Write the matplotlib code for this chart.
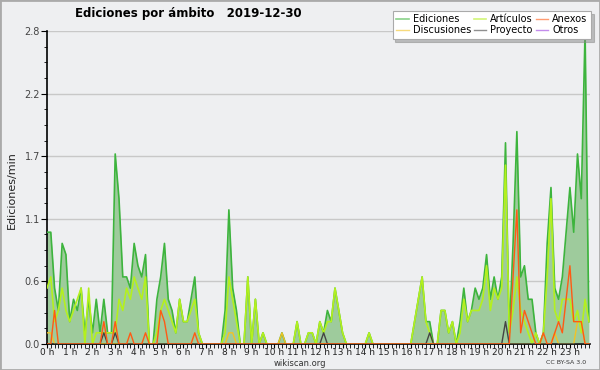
import numpy as np
import matplotlib
matplotlib.use("Agg")
import matplotlib.pyplot as plt
from matplotlib.patches import Rectangle

# edits per minute, one value every 10 minutes (6 per hour, 144 in total)
ediciones = [
    1.0, 1.0, 0.5, 0.3, 0.9, 0.8,   # 0 h
    0.2, 0.4, 0.3, 0.5, 0.1, 0.4,   # 1 h
    0.1, 0.4, 0.1, 0.4, 0.1, 0.1,   # 2 h
    1.7, 1.3, 0.6, 0.6, 0.5, 0.9,   # 3 h
    0.7, 0.6, 0.8, 0.0, 0.0, 0.4,   # 4 h
    0.6, 0.9, 0.4, 0.3, 0.1, 0.4,   # 5 h
    0.2, 0.2, 0.4, 0.6, 0.1, 0.0,   # 6 h
    0.0, 0.0, 0.0, 0.0, 0.0, 0.3,   # 7 h
    1.2, 0.5, 0.3, 0.0, 0.0, 0.6,   # 8 h
    0.0, 0.4, 0.0, 0.1, 0.0, 0.0,   # 9 h
    0.0, 0.0, 0.1, 0.0, 0.0, 0.0,   # 10 h
    0.2, 0.0, 0.0, 0.1, 0.1, 0.0,   # 11 h
    0.2, 0.1, 0.3, 0.2, 0.5, 0.3,   # 12 h
    0.1, 0.0, 0.0, 0.0, 0.0, 0.0,   # 13 h
    0.0, 0.1, 0.0, 0.0, 0.0, 0.0,   # 14 h
    0.0, 0.0, 0.0, 0.0, 0.0, 0.0,   # 15 h
    0.0, 0.2, 0.4, 0.6, 0.2, 0.2,   # 16 h
    0.0, 0.0, 0.3, 0.3, 0.1, 0.2,   # 17 h
    0.0, 0.2, 0.5, 0.2, 0.3, 0.5,   # 18 h
    0.4, 0.5, 0.8, 0.4, 0.6, 0.4,   # 19 h
    0.6, 1.8, 0.1, 0.9, 1.9, 0.6,   # 20 h
    0.7, 0.4, 0.4, 0.1, 0.0, 0.1,   # 21 h
    0.9, 1.4, 0.5, 0.4, 0.6, 1.0,   # 22 h
    1.4, 1.0, 1.7, 1.3, 2.8, 0.2,   # 23 h
]

articulos = [
    0.5, 0.6, 0.2, 0.3, 0.5, 0.3,
    0.2, 0.3, 0.4, 0.5, 0.0, 0.5,
    0.0, 0.1, 0.1, 0.1, 0.1, 0.1,
    0.1, 0.4, 0.3, 0.5, 0.4, 0.6,
    0.5, 0.4, 0.6, 0.0, 0.0, 0.1,
    0.3, 0.4, 0.3, 0.2, 0.1, 0.4,
    0.2, 0.2, 0.3, 0.4, 0.1, 0.0,
    0.0, 0.0, 0.0, 0.0, 0.0, 0.1,
    0.6, 0.4, 0.2, 0.0, 0.0, 0.6,
    0.0, 0.4, 0.0, 0.1, 0.0, 0.0,
    0.0, 0.0, 0.0, 0.0, 0.0, 0.0,
    0.2, 0.0, 0.0, 0.1, 0.1, 0.0,
    0.2, 0.1, 0.2, 0.2, 0.5, 0.3,
    0.1, 0.0, 0.0, 0.0, 0.0, 0.0,
    0.0, 0.1, 0.0, 0.0, 0.0, 0.0,
    0.0, 0.0, 0.0, 0.0, 0.0, 0.0,
    0.0, 0.2, 0.4, 0.6, 0.2, 0.1,
    0.0, 0.0, 0.3, 0.3, 0.1, 0.2,
    0.0, 0.1, 0.4, 0.2, 0.3, 0.3,
    0.3, 0.4, 0.7, 0.3, 0.5, 0.4,
    0.5, 1.6, 0.1, 0.3, 0.6, 0.3,
    0.2, 0.1, 0.0, 0.1, 0.0, 0.1,
    0.6, 1.3, 0.3, 0.2, 0.4, 0.4,
    0.4, 0.2, 0.3, 0.1, 0.4, 0.2,
]

# sparse series: {slot index: value}
anexos_pts = {2: 0.3, 15: 0.2, 18: 0.2, 22: 0.1, 26: 0.1, 30: 0.3, 31: 0.2,
              39: 0.1, 123: 0.6, 124: 1.2, 125: 0.1, 126: 0.3, 127: 0.2,
              128: 0.1, 131: 0.1, 134: 0.1, 135: 0.2, 136: 0.1, 137: 0.4,
              138: 0.7, 139: 0.2, 140: 0.2, 141: 0.2}
discusiones_pts = {0: 0.1, 1: 0.1, 48: 0.1, 49: 0.1, 62: 0.1, 134: 0.1,
                   140: 0.2, 141: 0.2}
proyecto_pts = {15: 0.1, 18: 0.1, 73: 0.1, 101: 0.1, 121: 0.2}
otros_pts = {}

hour_labels = ["%d h" % h for h in range(24)]
y_ticks = [0.0, 0.56, 1.12, 1.68, 2.24, 2.8]
y_labels = ["0.0", "0.6", "1.1", "1.7", "2.2", "2.8"]


def expand(pts, n=144):
    arr = np.zeros(n)
    for k, v in pts.items():
        arr[k] = v
    return arr


t = np.arange(144)
anexos = expand(anexos_pts)
discusiones = expand(discusiones_pts)
proyecto = expand(proyecto_pts)
otros = expand(otros_pts)

bg = "#eeeff1"
fig = plt.figure(figsize=(6, 3.7), dpi=100, facecolor=bg)
ax = fig.add_axes([47 / 600, 26 / 370, 543 / 600, 313 / 370], facecolor=bg)

ax.fill_between(t, ediciones, color="#9ecb9c", lw=0, zorder=2)
ax.plot(t, ediciones, color="#3db43d", lw=1.2, zorder=3, label="Ediciones")
ax.plot(t, discusiones, color="#f2c225", lw=1.0, zorder=4, label="Discusiones")
ax.plot(t, articulos, color="#b4f01e", lw=1.2, zorder=4, label="Artículos")
ax.plot(t, proyecto, color="#444444", lw=1.0, zorder=5, label="Proyecto")
ax.plot(t, anexos, color="#ff5a14", lw=1.0, zorder=5, label="Anexos")
ax.plot(t, otros, color="#9b3fe0", lw=1.0, zorder=1, label="Otros")

ax.set_xlim(0, 143.3)
ax.set_ylim(0, 2.8)
ax.set_xticks(np.arange(0, 144, 6))
ax.set_xticklabels(hour_labels)
ax.set_xticks(np.arange(0, 144, 1), minor=True)
ax.set_yticks(y_ticks)
ax.set_yticklabels(y_labels)
ax.set_yticks(np.arange(0, 2.81, 0.14), minor=True)
ax.tick_params(axis="x", which="major", length=3, labelsize=6.5, pad=0,
               labelcolor="#222222")
ax.tick_params(axis="x", which="minor", length=3)
ax.tick_params(axis="y", which="major", length=4, labelsize=7, pad=1,
               labelcolor="#444444")
ax.tick_params(axis="y", which="minor", length=2.5)
ax.grid(axis="y", which="major", color="#c8c8c8", lw=1, zorder=0)
ax.set_axisbelow(True)
for s in ["top", "right"]:
    ax.spines[s].set_visible(False)
ax.spines["left"].set_linewidth(1.2)
ax.spines["bottom"].set_linewidth(1.2)

fig.text(12 / 600, 1 - 190 / 370, "Ediciones/min", rotation=90, ha="center",
         va="center", fontsize=8, color="#222222")
fig.text(188 / 600, 1 - 14 / 370, "Ediciones por ámbito   2019-12-30",
         ha="center", va="center", fontsize=8.5, fontweight="bold")
fig.text(300 / 600, 1 - 363 / 370, "wikiscan.org", ha="center", va="center",
         fontsize=6, color="#333333")
fig.text(566 / 600, 1 - 363 / 370, "CC BY-SA 3.0", ha="center", va="center",
         fontsize=4.5, color="#333333")

handles, labels = ax.get_legend_handles_labels()
leg = fig.legend(handles, labels, ncol=3, loc="upper right",
                 bbox_to_anchor=(591 / 600, 1 - 11 / 370), fontsize=7,
                 frameon=True, fancybox=False, shadow={"color": "#888888"},
                 handlelength=1.3, handletextpad=0.4, columnspacing=0.3,
                 labelspacing=0.1, borderpad=0.35, borderaxespad=0)
leg.get_frame().set_edgecolor("#aaaaaa")
leg.get_frame().set_linewidth(0.8)
for h in leg.legend_handles:
    h.set_alpha(0.6)

fig.patches.append(Rectangle((0, 0), 1, 1, transform=fig.transFigure,
                             fill=False, edgecolor="#aaaaaa", lw=2))

fig.savefig("out.png", dpi=100, facecolor=bg)
